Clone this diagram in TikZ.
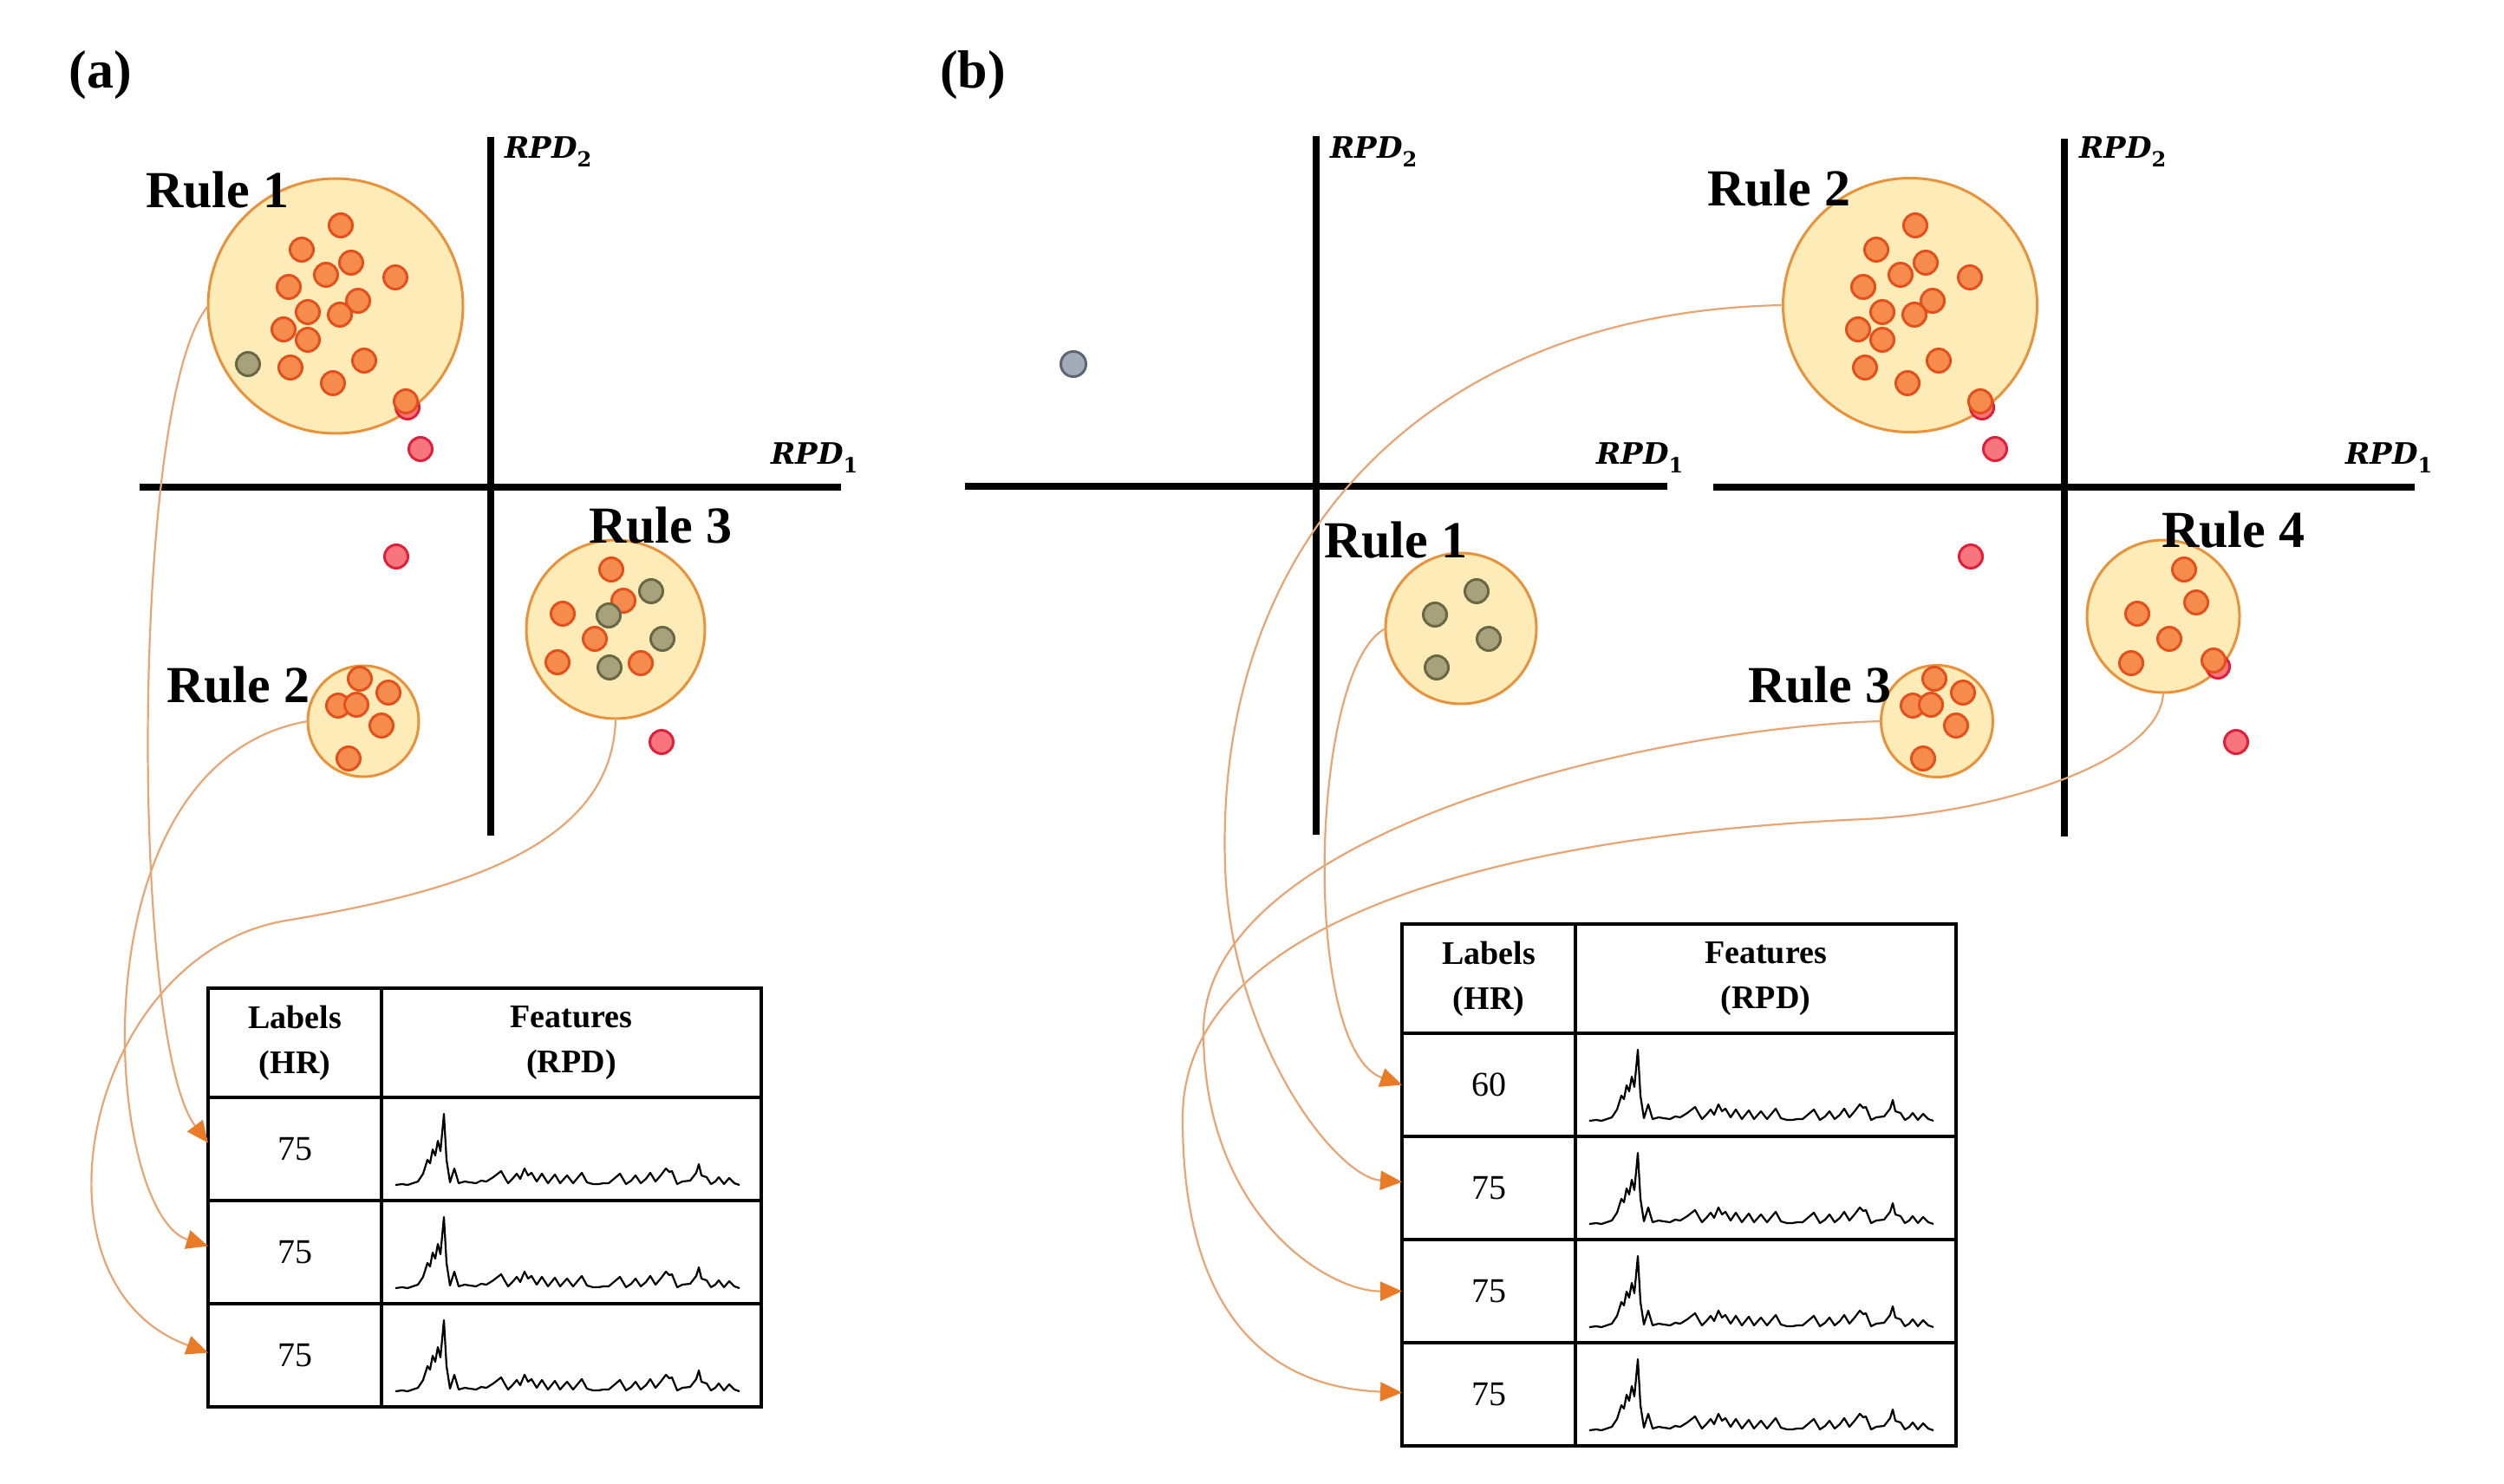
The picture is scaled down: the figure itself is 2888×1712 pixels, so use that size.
\documentclass[tikz,border=0pt]{standalone}
\usepackage{fontspec}
\setmainfont{Liberation Serif}
\newfontfamily\rpdfont{DejaVu Serif}
\usetikzlibrary{arrows.meta}
\definecolor{clfill}{HTML}{FDEBB8}
\definecolor{cldraw}{HTML}{E8923C}
\definecolor{orfill}{HTML}{F68B4E}
\definecolor{ordraw}{HTML}{E4501C}
\definecolor{gnfill}{HTML}{A8A27C}
\definecolor{gndraw}{HTML}{6A6844}
\definecolor{rdfill}{HTML}{F7767E}
\definecolor{rddraw}{HTML}{E0203A}
\definecolor{gyfill}{HTML}{A4ABB8}
\definecolor{gydraw}{HTML}{5E6676}
\definecolor{conn}{HTML}{E8A574}
\definecolor{arrowor}{HTML}{E97A26}
\tikzset{
  axisline/.style={line width=8pt},
  cluster/.style={circle, fill=clfill, draw=cldraw, line width=3pt, inner sep=0pt, outer sep=0pt},
  dotbase/.style={circle, line width=3pt, minimum size=27pt, inner sep=0pt, outer sep=0pt},
  odot/.style={dotbase, fill=orfill, draw=ordraw},
  gdot/.style={dotbase, fill=gnfill, draw=gndraw},
  rdot/.style={dotbase, fill=rdfill, draw=rddraw},
  gydot/.style={dotbase, fill=gyfill, draw=gydraw},
  rulelab/.style={anchor=base west, inner sep=0pt, font=\bfseries\fontsize{60}{70}\selectfont},
  panellab/.style={inner sep=0pt, font=\bfseries\fontsize{62}{70}\selectfont},
  rpdlab/.style={anchor=base west, inner sep=0pt},
  tcell/.style={draw, line width=4pt, inner sep=0pt, outer sep=0pt, anchor=north west, align=center},
  hdr/.style={tcell, minimum height=126pt, font=\bfseries\fontsize{38}{52}\selectfont},
  num/.style={tcell, minimum height=119pt, font=\fontsize{40}{48}\selectfont},
  connector/.style={draw=conn, line width=2.2pt, -{Triangle[length=25pt,width=22pt,color=arrowor,fill=arrowor]}},
  specline/.style={line width=2.2pt, line join=round},
  pics/spectrum/.style={code={
    \draw[specline] plot coordinates {(0,-1) (8,-2) (14,-1) (20,-3) (26,-5) (32,-14) (37,-30) (40,-26) (43,-42) (46,-35) (49,-52) (52,-40) (56,-83) (59,-30) (63,-4) (68,-20) (73,-3) (80,-5) (86,-4) (93,-3) (99,-6) (105,-5) (113,-10) (122,-17) (127,-8) (130,-3) (135,-8) (140,-14) (144,-8) (149,-20) (153,-12) (157,-15) (163,-5) (169,-14) (176,-3) (184,-13) (190,-3) (198,-12) (205,-3) (215,-15) (221,-4) (228,-2) (234,-2) (240,-3) (246,-3) (252,-8) (259,-14) (266,-2) (272,-6) (277,-12) (283,-3) (289,-8) (294,-15) (300,-5) (306,-12) (312,-20) (316,-16) (319,-17) (325,-2) (331,-5) (340,-6) (347,-15) (350,-25) (353,-12) (359,-10) (364,-2) (369,-5) (373,-10) (379,-2) (385,-9) (391,-3) (397,-1)};
  }}
}
\newcommand{\rpdtext}[1]{{\rpdfont\bfseries\itshape\fontsize{34}{40}\selectfont RPD}{\rpdfont\bfseries\fontsize{24}{28}\selectfont\raisebox{-10pt}{#1}}}
\begin{document}
\begin{tikzpicture}[x=1pt,y=-1pt]
\useasboundingbox (0,0) rectangle (2888,1712);
\fill[white] (0,0) rectangle (2888,1712);

% panel labels
\node[panellab] (pa) at (116,87) {(a)};
\node[panellab] (pb) at (1122,87) {(b)};

% axes
\draw[axisline] (566,158) -- (566,964);
\draw[axisline] (161,562) -- (970,562);
\draw[axisline] (1518,157) -- (1518,963);
\draw[axisline] (1113,561) -- (1923,561);
\draw[axisline] (2381,160) -- (2381,965);
\draw[axisline] (1976,562) -- (2785,562);

% axis labels
\node[rpdlab] (ay) at (582,183) {\rpdtext{2}};
\node[rpdlab] (ax) at (889,535) {\rpdtext{1}};
\node[rpdlab] (bly) at (1534,183) {\rpdtext{2}};
\node[rpdlab] (blx) at (1841,535) {\rpdtext{1}};
\node[rpdlab] (bry) at (2398,183) {\rpdtext{2}};
\node[rpdlab] (brx) at (2705,535) {\rpdtext{1}};

% clusters
\node[cluster, minimum size=294pt] (a1) at (387,353) {};
\node[cluster, minimum size=128pt] (a2) at (419,832) {};
\node[cluster, minimum size=206pt] (a3) at (710,726) {};
\node[cluster, minimum size=174pt] (b1) at (1685,725) {};
\node[cluster, minimum size=293pt] (b2) at (2203,352) {};
\node[cluster, minimum size=129pt] (b3) at (2234,832) {};
\node[cluster, minimum size=176pt] (b4) at (2495,711) {};

% red (outlier) dots
\foreach \px/\py [count=\i] in {470/470, 485/518, 457/642, 763/856}
  \node[rdot] (ar\i) at (\px,\py) {};
\foreach \px/\py [count=\i] in {470/470, 485/518, 457/642, 763/856}
  \node[rdot] (br\i) at ({\px+1816},\py) {};
\node[rdot] (br5) at (2558,769) {};
\node[gydot, minimum width=29pt] (bg1) at (1238,420) {};

% panel (a) rule 1 dots
\foreach \px/\py [count=\i] in {393/260, 348/288, 405/303, 376/317, 456/320, 333/331, 413/347, 355/360, 392/363, 327/380, 355/392, 335/424, 420/416, 384/442, 468/463}
  \node[odot] (a1o\i) at (\px,\py) {};
\node[gdot] (a1g1) at (286,420) {};
% panel (a) rule 2 dots
\foreach \px/\py [count=\i] in {415/783, 448/799, 390/814, 411/813, 440/837, 402/875}
  \node[odot] (a2o\i) at (\px,\py) {};
% panel (a) rule 3 dots
\foreach \px/\py [count=\i] in {705/657, 719/693, 649/708, 686/737, 643/764, 739/765}
  \node[odot] (a3o\i) at (\px,\py) {};
\foreach \px/\py [count=\i] in {751/682, 702/710, 764/737, 703/770}
  \node[gdot] (a3g\i) at (\px,\py) {};

% panel (b) dots
\foreach \px/\py [count=\i] in {1703/682, 1655/709, 1717/737, 1657/770}
  \node[gdot] (b1g\i) at (\px,\py) {};
\foreach \px/\py [count=\i] in {393/260, 348/288, 405/303, 376/317, 456/320, 333/331, 413/347, 355/360, 392/363, 327/380, 355/392, 335/424, 420/416, 384/442, 468/463}
  \node[odot] (b2o\i) at ({\px+1816},\py) {};
\foreach \px/\py [count=\i] in {415/783, 448/799, 390/814, 411/813, 440/837, 402/875}
  \node[odot] (b3o\i) at ({\px+1816},\py) {};
\foreach \px/\py [count=\i] in {2519/657, 2533/695, 2465/708, 2502/737, 2458/765, 2553/762}
  \node[odot] (b4o\i) at (\px,\py) {};

% tables (a)
\node[hdr, minimum width=200pt] (ta-h1) at (240,1140) {Labels\\(HR)};
\node[hdr, minimum width=438pt] (ta-h2) at (440,1140) {Features\\(RPD)};
\foreach \i in {1,2,3} {
  \node[num, minimum width=200pt] (ta-l\i) at (240,{1266+119*(\i-1)}) {75};
  \node[num, minimum width=438pt] (ta-f\i) at (440,{1266+119*(\i-1)}) {};
  \pic at (456,{1368+119*(\i-1)}) {spectrum};
}
% table (b)
\node[hdr, minimum width=200pt] (tb-h1) at (1617,1066) {Labels\\(HR)};
\node[hdr, minimum width=439pt] (tb-h2) at (1817,1066) {Features\\(RPD)};
\node[num, minimum width=200pt] (tb-l1) at (1617,1192) {60};
\node[num, minimum width=439pt] (tb-f1) at (1817,1192) {};
\pic at (1833,1294) {spectrum};
\foreach \i in {2,3,4} {
  \node[num, minimum width=200pt] (tb-l\i) at (1617,{1192+119*(\i-1)}) {75};
  \node[num, minimum width=439pt] (tb-f\i) at (1817,{1192+119*(\i-1)}) {};
  \pic at (1833,{1294+119*(\i-1)}) {spectrum};
}

% connectors (a)
\coordinate (a3mid) at (330,1062);
\draw[connector] (a1.west) .. controls (150,460) and (150,1200) .. ([yshift=7pt]ta-l1.west);
\draw[connector] (a2.west) .. controls (80,880) and (120,1400) .. ([yshift=7pt]ta-l2.west);
\draw[connector] (a3.south) .. controls (707,980) and (520,1030) .. (a3mid) .. controls (100,1100) and (20,1480) .. ([yshift=3pt]ta-l3.west);

% connectors (b)
\coordinate (b2mid) at (1413,1000);
\coordinate (b3mid) at (1388,1190);
\coordinate (b4mida) at (2150,945);
\coordinate (b4midb) at (1364,1290);
\draw[connector] (b1.west) .. controls (1510,770) and (1500,1210) .. (tb-l1.west);
\draw[connector] (b2.west) .. controls (1650,360) and (1400,620) .. (b2mid) .. controls (1420,1200) and (1540,1358) .. ([yshift=7pt]tb-l2.west);
\draw[connector] (b3.west) .. controls (1900,840) and (1388,960) .. (b3mid) .. controls (1388,1400) and (1530,1490) .. (tb-l3.west);
\draw[connector] (b4.south) .. controls (2492,880) and (2300,938) .. (b4mida) .. controls (1800,960) and (1364,1040) .. (b4midb) .. controls (1364,1500) and (1450,1600) .. ([yshift=2pt]tb-l4.west);

% rule labels
\node[rulelab] (la1) at (168,240) {Rule 1};
\node[rulelab] (la2) at (192,810) {Rule 2};
\node[rulelab] (la3) at (679,626) {Rule 3};
\node[rulelab] (lb1) at (1527,643) {Rule 1};
\node[rulelab] (lb2) at (1969,238) {Rule 2};
\node[rulelab] (lb3) at (2016,810) {Rule 3};
\node[rulelab] (lb4) at (2493,631) {Rule 4};
\end{tikzpicture}
\end{document}
